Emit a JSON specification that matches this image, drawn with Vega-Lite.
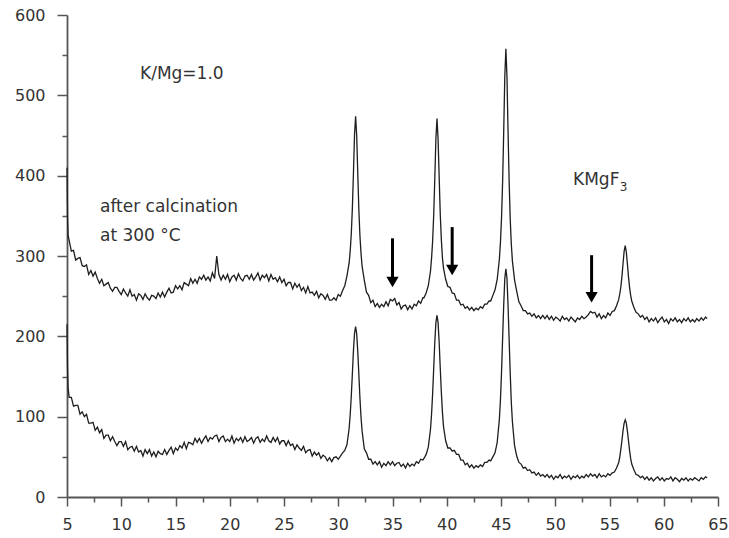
{
"$schema":"https://vega.github.io/schema/vega-lite/v6.json",
"width":651,"height":482,
"autosize":"none",
"padding":{"left":67,"top":15,"right":11,"bottom":41},
"background":"white",
"config":{"view":{"stroke":null},"font":"DejaVu Sans"},
"datasets":{
"trace":[
{"t":5,"u":410,"l":215},{"t":5.05,"u":348,"l":160},{"t":5.1,"u":326,"l":136},{"t":5.2,"u":319,"l":124},{"t":5.4,"u":306,"l":124},{"t":5.6,"u":307,"l":113},{"t":5.8,"u":295,"l":114},{"t":6.0,"u":297,"l":114},{"t":6.2,"u":298,"l":103},{"t":6.4,"u":288,"l":106},{"t":6.6,"u":287,"l":100},{"t":6.8,"u":289,"l":103},{"t":7.0,"u":277,"l":92},{"t":7.2,"u":282,"l":92},{"t":7.4,"u":275,"l":93},{"t":7.6,"u":280,"l":83},{"t":7.8,"u":272,"l":87},{"t":8.0,"u":266,"l":80},{"t":8.2,"u":271,"l":84},{"t":8.4,"u":263,"l":73},{"t":8.6,"u":265,"l":77},{"t":8.8,"u":267,"l":77},{"t":9.0,"u":260,"l":70},{"t":9.2,"u":256,"l":75},{"t":9.4,"u":261,"l":69},{"t":9.6,"u":261,"l":64},{"t":9.8,"u":256,"l":69},{"t":10.0,"u":252,"l":69},{"t":10.2,"u":259,"l":63},{"t":10.4,"u":254,"l":69},{"t":10.6,"u":250,"l":59},{"t":10.8,"u":258,"l":62},{"t":11.0,"u":250,"l":63},{"t":11.2,"u":252,"l":57},{"t":11.4,"u":245,"l":63},{"t":11.6,"u":253,"l":56},{"t":11.8,"u":251,"l":58},{"t":12.0,"u":246,"l":51},{"t":12.2,"u":253,"l":59},{"t":12.4,"u":248,"l":54},{"t":12.6,"u":245,"l":59},{"t":12.8,"u":251,"l":51},{"t":13.0,"u":250,"l":56},{"t":13.2,"u":247,"l":50},{"t":13.4,"u":254,"l":57},{"t":13.6,"u":249,"l":54},{"t":13.8,"u":255,"l":53},{"t":14.0,"u":249,"l":59},{"t":14.2,"u":255,"l":53},{"t":14.4,"u":260,"l":58},{"t":14.6,"u":254,"l":62},{"t":14.8,"u":255,"l":54},{"t":15.0,"u":263,"l":61},{"t":15.2,"u":259,"l":58},{"t":15.4,"u":263,"l":64},{"t":15.6,"u":258,"l":61},{"t":15.8,"u":267,"l":68},{"t":16.0,"u":265,"l":60},{"t":16.2,"u":263,"l":68},{"t":16.4,"u":272,"l":67},{"t":16.6,"u":266,"l":65},{"t":16.8,"u":271,"l":73},{"t":17.0,"u":266,"l":68},{"t":17.2,"u":274,"l":73},{"t":17.4,"u":271,"l":67},{"t":17.6,"u":276,"l":72},{"t":17.8,"u":270,"l":76},{"t":18.0,"u":274,"l":69},{"t":18.2,"u":269,"l":74},{"t":18.4,"u":279,"l":72},{"t":18.6,"u":272,"l":76},{"t":18.8,"u":300,"l":77},{"t":19.0,"u":277,"l":69},{"t":19.2,"u":270,"l":74},{"t":19.4,"u":276,"l":76},{"t":19.6,"u":271,"l":69},{"t":19.8,"u":277,"l":72},{"t":20.0,"u":268,"l":69},{"t":20.2,"u":274,"l":76},{"t":20.4,"u":276,"l":67},{"t":20.6,"u":270,"l":73},{"t":20.8,"u":278,"l":70},{"t":21.0,"u":272,"l":74},{"t":21.2,"u":269,"l":68},{"t":21.4,"u":275,"l":75},{"t":21.6,"u":276,"l":69},{"t":21.8,"u":271,"l":71},{"t":22.0,"u":277,"l":74},{"t":22.2,"u":270,"l":67},{"t":22.4,"u":274,"l":73},{"t":22.6,"u":279,"l":75},{"t":22.8,"u":270,"l":68},{"t":23.0,"u":276,"l":72},{"t":23.2,"u":273,"l":69},{"t":23.4,"u":277,"l":76},{"t":23.6,"u":269,"l":70},{"t":23.8,"u":277,"l":68},{"t":24.0,"u":271,"l":74},{"t":24.2,"u":273,"l":69},{"t":24.4,"u":268,"l":74},{"t":24.6,"u":274,"l":66},{"t":24.8,"u":267,"l":70},{"t":25.0,"u":271,"l":70},{"t":25.2,"u":263,"l":64},{"t":25.4,"u":267,"l":70},{"t":25.6,"u":267,"l":64},{"t":25.8,"u":259,"l":66},{"t":26.0,"u":266,"l":59},{"t":26.2,"u":261,"l":65},{"t":26.4,"u":265,"l":61},{"t":26.6,"u":257,"l":58},{"t":26.8,"u":261,"l":63},{"t":27.0,"u":254,"l":55},{"t":27.2,"u":262,"l":58},{"t":27.4,"u":254,"l":59},{"t":27.6,"u":255,"l":51},{"t":27.8,"u":251,"l":56},{"t":28.0,"u":256,"l":52},{"t":28.2,"u":248,"l":55},{"t":28.4,"u":253,"l":48},{"t":28.6,"u":251,"l":52},{"t":28.8,"u":246,"l":50},{"t":29.0,"u":252,"l":45},{"t":29.2,"u":245,"l":49},{"t":29.4,"u":245,"l":44},{"t":29.6,"u":248,"l":49},{"t":29.8,"u":245,"l":50},{"t":30.0,"u":252,"l":47},{"t":30.2,"u":250,"l":51},{"t":30.4,"u":257,"l":55},{"t":30.6,"u":263,"l":58},{"t":30.8,"u":275,"l":65},{"t":31.0,"u":291,"l":85},{"t":31.1,"u":306,"l":102},{"t":31.2,"u":327,"l":125},{"t":31.3,"u":359,"l":153},{"t":31.4,"u":403,"l":182},{"t":31.5,"u":451,"l":204},{"t":31.6,"u":474,"l":212},{"t":31.7,"u":450,"l":203},{"t":31.8,"u":402,"l":181},{"t":31.9,"u":357,"l":152},{"t":32.0,"u":325,"l":123},{"t":32.1,"u":303,"l":99},{"t":32.2,"u":287,"l":82},{"t":32.4,"u":270,"l":60},{"t":32.6,"u":255,"l":55},{"t":32.8,"u":251,"l":47},{"t":33.0,"u":242,"l":47},{"t":33.2,"u":245,"l":41},{"t":33.4,"u":237,"l":44},{"t":33.6,"u":241,"l":40},{"t":33.8,"u":236,"l":44},{"t":34.0,"u":240,"l":37},{"t":34.2,"u":237,"l":42},{"t":34.4,"u":243,"l":39},{"t":34.6,"u":238,"l":44},{"t":34.8,"u":246,"l":40},{"t":35.0,"u":244,"l":44},{"t":35.2,"u":247,"l":39},{"t":35.4,"u":239,"l":42},{"t":35.6,"u":242,"l":43},{"t":35.8,"u":234,"l":38},{"t":36.0,"u":238,"l":41},{"t":36.2,"u":239,"l":36},{"t":36.4,"u":233,"l":42},{"t":36.6,"u":238,"l":38},{"t":36.8,"u":234,"l":41},{"t":37.0,"u":240,"l":39},{"t":37.2,"u":238,"l":44},{"t":37.4,"u":244,"l":42},{"t":37.6,"u":241,"l":47},{"t":37.8,"u":248,"l":46},{"t":37.9,"u":248,"l":48},{"t":38.1,"u":254,"l":53},{"t":38.3,"u":263,"l":62},{"t":38.5,"u":281,"l":84},{"t":38.6,"u":297,"l":103},{"t":38.7,"u":319,"l":129},{"t":38.8,"u":352,"l":161},{"t":38.9,"u":397,"l":193},{"t":39.0,"u":446,"l":217},{"t":39.1,"u":471,"l":226},{"t":39.2,"u":446,"l":217},{"t":39.3,"u":399,"l":193},{"t":39.4,"u":353,"l":161},{"t":39.5,"u":321,"l":131},{"t":39.6,"u":298,"l":106},{"t":39.7,"u":285,"l":88},{"t":39.9,"u":271,"l":70},{"t":40.1,"u":262,"l":61},{"t":40.3,"u":261,"l":61},{"t":40.5,"u":254,"l":57},{"t":40.7,"u":253,"l":58},{"t":40.9,"u":245,"l":53},{"t":41.1,"u":245,"l":53},{"t":41.3,"u":239,"l":46},{"t":41.5,"u":240,"l":46},{"t":41.7,"u":235,"l":40},{"t":41.9,"u":237,"l":42},{"t":42.1,"u":233,"l":37},{"t":42.3,"u":236,"l":40},{"t":42.5,"u":232,"l":36},{"t":42.7,"u":235,"l":39},{"t":42.9,"u":233,"l":37},{"t":43.1,"u":237,"l":40},{"t":43.3,"u":235,"l":38},{"t":43.5,"u":240,"l":43},{"t":43.7,"u":240,"l":43},{"t":43.9,"u":244,"l":46},{"t":44.05,"u":244,"l":45},{"t":44.25,"u":251,"l":50},{"t":44.45,"u":258,"l":55},{"t":44.65,"u":271,"l":68},{"t":44.85,"u":296,"l":97},{"t":44.95,"u":317,"l":121},{"t":45.05,"u":348,"l":156},{"t":45.15,"u":393,"l":198},{"t":45.25,"u":455,"l":239},{"t":45.35,"u":523,"l":272},{"t":45.45,"u":558,"l":284},{"t":45.55,"u":523,"l":272},{"t":45.65,"u":455,"l":238},{"t":45.75,"u":393,"l":196},{"t":45.85,"u":346,"l":154},{"t":45.95,"u":315,"l":118},{"t":46.05,"u":294,"l":94},{"t":46.25,"u":270,"l":64},{"t":46.45,"u":256,"l":51},{"t":46.65,"u":243,"l":43},{"t":46.85,"u":238,"l":41},{"t":47.05,"u":232,"l":36},{"t":47.25,"u":232,"l":37},{"t":47.45,"u":228,"l":33},{"t":47.65,"u":229,"l":34},{"t":47.85,"u":225,"l":30},{"t":48.05,"u":228,"l":31},{"t":48.25,"u":223,"l":27},{"t":48.45,"u":226,"l":30},{"t":48.65,"u":222,"l":26},{"t":48.85,"u":226,"l":28},{"t":49.05,"u":222,"l":25},{"t":49.25,"u":226,"l":28},{"t":49.45,"u":221,"l":24},{"t":49.65,"u":225,"l":27},{"t":49.85,"u":220,"l":22},{"t":50.05,"u":224,"l":26},{"t":50.25,"u":222,"l":24},{"t":50.45,"u":219,"l":28},{"t":50.65,"u":225,"l":23},{"t":50.85,"u":221,"l":26},{"t":51.05,"u":223,"l":24},{"t":51.25,"u":219,"l":27},{"t":51.45,"u":224,"l":22},{"t":51.65,"u":221,"l":26},{"t":51.85,"u":218,"l":24},{"t":52.05,"u":223,"l":27},{"t":52.25,"u":221,"l":23},{"t":52.45,"u":225,"l":26},{"t":52.65,"u":222,"l":24},{"t":52.85,"u":224,"l":28},{"t":53.05,"u":227,"l":25},{"t":53.25,"u":231,"l":29},{"t":53.45,"u":229,"l":26},{"t":53.65,"u":230,"l":28},{"t":53.85,"u":224,"l":24},{"t":54.05,"u":228,"l":29},{"t":54.25,"u":222,"l":25},{"t":54.45,"u":226,"l":27},{"t":54.65,"u":223,"l":25},{"t":54.85,"u":229,"l":29},{"t":55.05,"u":226,"l":27},{"t":55.25,"u":231,"l":30},{"t":55.45,"u":232,"l":31},{"t":55.65,"u":238,"l":36},{"t":55.85,"u":246,"l":43},{"t":55.95,"u":253,"l":50},{"t":56.05,"u":262,"l":60},{"t":56.15,"u":275,"l":71},{"t":56.25,"u":291,"l":83},{"t":56.35,"u":306,"l":92},{"t":56.45,"u":313,"l":96},{"t":56.55,"u":305,"l":92},{"t":56.65,"u":290,"l":82},{"t":56.75,"u":274,"l":70},{"t":56.85,"u":261,"l":58},{"t":56.95,"u":251,"l":48},{"t":57.05,"u":244,"l":41},{"t":57.25,"u":236,"l":34},{"t":57.45,"u":230,"l":28},{"t":57.65,"u":228,"l":27},{"t":57.85,"u":224,"l":24},{"t":58.05,"u":226,"l":26},{"t":58.25,"u":221,"l":22},{"t":58.45,"u":224,"l":25},{"t":58.65,"u":218,"l":21},{"t":58.85,"u":222,"l":24},{"t":59.05,"u":219,"l":20},{"t":59.25,"u":223,"l":23},{"t":59.45,"u":217,"l":25},{"t":59.65,"u":221,"l":21},{"t":59.85,"u":224,"l":24},{"t":60.05,"u":218,"l":20},{"t":60.25,"u":221,"l":23},{"t":60.45,"u":216,"l":22},{"t":60.65,"u":222,"l":25},{"t":60.85,"u":219,"l":20},{"t":61.05,"u":223,"l":24},{"t":61.25,"u":218,"l":22},{"t":61.45,"u":221,"l":19},{"t":61.65,"u":217,"l":23},{"t":61.85,"u":222,"l":21},{"t":62.05,"u":219,"l":24},{"t":62.25,"u":223,"l":20},{"t":62.45,"u":218,"l":23},{"t":62.65,"u":221,"l":21},{"t":62.85,"u":218,"l":24},{"t":63.05,"u":222,"l":22},{"t":63.25,"u":219,"l":20},{"t":63.45,"u":223,"l":24},{"t":63.65,"u":220,"l":22},{"t":63.85,"u":224,"l":25},{"t":64.0,"u":222,"l":24}
],
"arrows":[{"t":35.0,"v":322,"tip":261},{"t":40.5,"v":336,"tip":276},{"t":53.35,"v":301,"tip":242}],
"heads":[{"t":35.0,"v":261},{"t":40.5,"v":276},{"t":53.35,"v":242}],
"notes":[{"t":11.73,"v":526,"label":"K/Mg=1.0"},{"t":8.04,"v":361,"label":"after calcination"},{"t":8.04,"v":325,"label":"at 300 °C"},{"t":51.64,"v":395,"label":"KMgF"}],
"sub":[{"t":55.95,"v":386,"label":"3"}]
},
"encoding":{
"x":{"field":"t","type":"quantitative","scale":{"domain":[5,65],"nice":false,"zero":false},
"axis":{"title":null,"grid":false,"values":[5,7.5,10,12.5,15,17.5,20,22.5,25,27.5,30,32.5,35,37.5,40,42.5,45,47.5,50,52.5,55,57.5,60,62.5,65],
"labelExpr":"datum.value % 5 === 0 ? format(datum.value, 'd') : ''",
"tickSize":{"condition":{"test":"datum.value % 5 === 0","value":9},"value":5},
"domainColor":"#555","domainWidth":1.8,"tickColor":"#555","tickWidth":1.5,
"labelFont":"DejaVu Sans","labelFontSize":16,"labelColor":"#333","labelPadding":10,"labelFlush":false,"labelOverlap":false}},
"y":{"field":"v","type":"quantitative","scale":{"domain":[0,600],"nice":false,"zero":true},
"axis":{"title":null,"grid":false,"values":[0,50,100,150,200,250,300,350,400,450,500,550,600],
"labelExpr":"datum.value % 100 === 0 ? format(datum.value, 'd') : ''",
"tickSize":{"condition":{"test":"datum.value % 100 === 0","value":10},"value":5},
"domainColor":"#555","domainWidth":1.8,"tickColor":"#555","tickWidth":1.5,
"labelFont":"DejaVu Sans","labelFontSize":16,"labelColor":"#333","labelPadding":12,"labelFlush":false,"labelOverlap":false}}
},
"layer":[
{"data":{"name":"trace"},"transform":[{"fold":["u","l"],"as":["s","v"]}],
"mark":{"type":"line","color":"#1e1e1e","strokeWidth":1.3},
"encoding":{"detail":{"field":"s","type":"nominal"}}},
{"data":{"name":"arrows"},"mark":{"type":"rule","color":"#000","strokeWidth":3,"y2Offset":-8},
"encoding":{"y2":{"field":"tip"}}},
{"data":{"name":"heads"},"mark":{"type":"point","shape":"triangle-down","filled":true,"size":150,"color":"#000","opacity":1,"yOffset":-5.3},
"encoding":{}},
{"data":{"name":"notes"},"mark":{"type":"text","align":"left","baseline":"middle","font":"DejaVu Sans","fontSize":17,"color":"#333"},
"encoding":{"text":{"field":"label"}}},
{"data":{"name":"sub"},"mark":{"type":"text","align":"left","baseline":"middle","font":"DejaVu Sans","fontSize":12,"color":"#333"},
"encoding":{"text":{"field":"label"}}}
]
}
